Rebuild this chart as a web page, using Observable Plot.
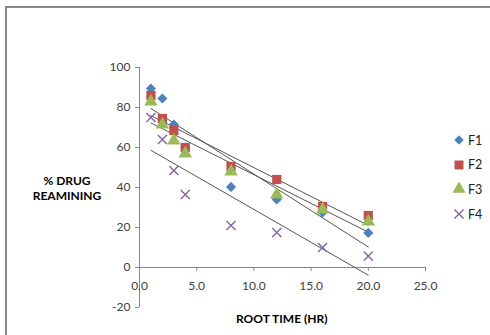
<!DOCTYPE html>
<html>
<head>
<meta charset="utf-8">
<script src="https://cdn.jsdelivr.net/npm/d3@7"></script>
<script src="https://cdn.jsdelivr.net/npm/@observablehq/plot@0.6"></script>
<style>
  html, body { margin: 0; padding: 0; background: #fff; }
  #wrap { position: relative; width: 490px; height: 335px; overflow: hidden; font-family: Lato, "Open Sans", sans-serif; }
  #border { position: absolute; left: 5px; top: 6px; width: 600px; height: 600px; border-top: 2px solid #8a8a8a; border-left: 2px solid #8a8a8a; box-sizing: border-box; }
  #chart { position: absolute; left: 0; top: 0; }
  .lab { position: absolute; font-weight: bold; font-size: 12px; color: #000; white-space: nowrap; }
  #legend { position: absolute; left: 452px; top: 128px; font-size: 12.5px; color: #222; }
  #legend .item { height: 24.6px; display: flex; align-items: center; }
  #legend svg { margin-right: 2px; }
</style>
</head>
<body>
<div id="wrap">
  <div id="border"></div>
  <div id="chart"></div>
  <div class="lab" style="left:30px; top:173px; width:74px; text-align:center; line-height:15px;">% DRUG<br>REAMINING</div>
  <div class="lab" style="left:236px; top:311px;">ROOT TIME (HR)</div>
  <div id="legend"></div>
</div>
<script>
const times = [1, 2, 3, 4, 8, 12, 16, 20];
const F1 = [89.5, 84.5, 71.5, 60, 40.3, 34, 27.5, 17.3];
const F2 = [86, 74.5, 68.5, 60, 50.5, 44, 30.5, 26];
const F3 = [83, 71.5, 63.5, 57, 48, 36.5, 29, 23];
const F4 = [75, 64, 48.5, 36.5, 21, 17.5, 10, 5.7];
const seriesNames = ["F1", "F2", "F3", "F4"];
const colors = ["#4F81BD", "#C0504D", "#9BBB59", "#8064A2"];
const xTicks = [0, 5, 10, 15, 20, 25];
const yTicks = [-20, 0, 20, 40, 60, 80, 100];

const seriesValues = [F1, F2, F3, F4];
const rows = [];
seriesNames.forEach((s, i) => times.forEach((t, j) => rows.push({series: s, x: t, y: seriesValues[i][j]})));
const of = s => rows.filter(d => d.series === s);

const axisColor = "#868686";
const textColor = "#404040";

const plot = Plot.plot({
  width: 490,
  height: 335,
  marginLeft: 139,
  marginRight: 65,
  marginTop: 67,
  marginBottom: 28,
  style: {background: "transparent", fontFamily: "Lato, 'Open Sans', sans-serif"},
  x: {domain: [0, 25], axis: null},
  y: {domain: [-20, 100], axis: null},
  marks: [
    Plot.ruleX([0], {y1: -20, y2: 100, stroke: axisColor}),
    Plot.ruleY([0], {x1: 0, x2: 25, stroke: axisColor}),
    Plot.axisY({ticks: yTicks, tickSize: 4, tickPadding: 5, fontSize: 12, color: textColor, stroke: axisColor, label: null, tickFormat: d => String(d)}),
    Plot.ruleX(xTicks, {x: d => d, y1: 0, y2: -2, stroke: axisColor}),
    Plot.text(xTicks, {x: d => d, y: 0, dy: 19, text: d => d.toFixed(1), fontSize: 12, fill: textColor}),
    Plot.linearRegressionY(rows, {x: "x", y: "y", z: "series", stroke: "#555", strokeWidth: 1, ci: 0}),
    Plot.dot(of("F1"), {x: "x", y: "y", symbol: "diamond2", r: 4.6, fill: colors[0], stroke: "none"}),
    Plot.dot(of("F2"), {x: "x", y: "y", symbol: "square", r: 5.2, fill: colors[1], stroke: "none"}),
    Plot.dot(of("F3"), {x: "x", y: "y", symbol: "triangle", r: 5.0, fill: colors[2], stroke: "none"}),
    Plot.dot(of("F4"), {x: "x", y: "y", symbol: "times", r: 4.2, stroke: colors[3], strokeWidth: 1.4, fill: "none"})
  ]
});
document.getElementById("chart").appendChild(plot);

// Legend
const legend = d3.select("#legend");
const symTypes = [d3.symbolDiamond2, d3.symbolSquare, d3.symbolTriangle, d3.symbolTimes];
const symSizes = [55, 80, 75, 55];
seriesNames.forEach((s, i) => {
  const item = legend.append("div").attr("class", "item");
  const svg = item.append("svg").attr("width", 14).attr("height", 14);
  const p = svg.append("path").attr("transform", "translate(7,7)").attr("d", d3.symbol(symTypes[i], symSizes[i])());
  if (i === 3) p.attr("fill", "none").attr("stroke", colors[i]).attr("stroke-width", 1.4);
  else p.attr("fill", colors[i]);
  item.append("span").text(s);
});
</script>
</body>
</html>
